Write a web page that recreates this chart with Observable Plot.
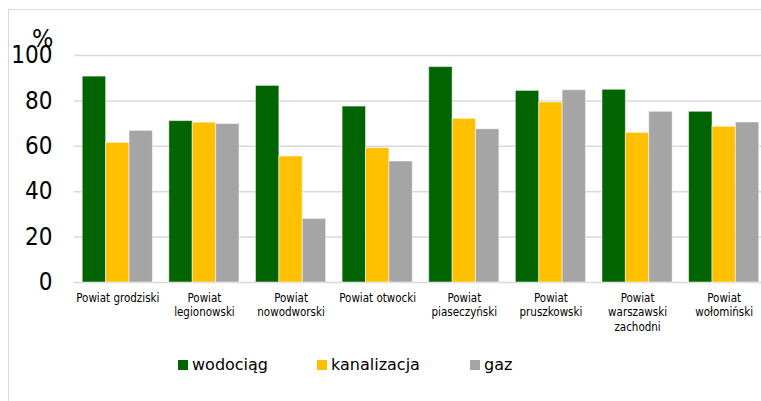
<!DOCTYPE html>
<html>
<head>
<meta charset="utf-8">
<script src="https://cdn.jsdelivr.net/npm/d3@7"></script>
<script src="https://cdn.jsdelivr.net/npm/@observablehq/plot@0.6"></script>
<style>
  body { margin: 0; background: #fff; overflow: hidden; }
  #wrap { position: relative; width: 761px; height: 401px; overflow: hidden; font-family: "DejaVu Sans", sans-serif; }
  #frame { position: absolute; left: 8px; top: 9px; width: 800px; height: 450px; border: 1.5px solid #d9d9d9; box-sizing: border-box; }
  #grid, #chart { position: absolute; left: 0; top: 0; }
  #pct { position: absolute; left: 32px; top: 26px; font-size: 25px; line-height: 1; color: #000; font-family: "DejaVu Sans Condensed", "DejaVu Sans", sans-serif; }
  .leg { position: absolute; top: 355px; font-size: 16px; color: #000; display: flex; align-items: center; }
  .leg i { display: inline-block; width: 10px; height: 10px; margin-right: 4px; }
</style>
</head>
<body>
<div id="wrap">
  <div id="frame"></div>
  <div id="grid"></div>
  <div id="chart"></div>
  <div id="pct">%</div>
  <div id="legend"></div>
</div>
<script>
const categories = ["Powiat grodziski", "Powiat legionowski", "Powiat nowodworski", "Powiat otwocki", "Powiat piaseczyński", "Powiat pruszkowski", "Powiat warszawski zachodni", "Powiat wołomiński"];
const categoryLabels = ["Powiat grodziski", "Powiat\nlegionowski", "Powiat\nnowodworski", "Powiat otwocki", "Powiat\npiaseczyński", "Powiat\npruszkowski", "Powiat\nwarszawski\nzachodni", "Powiat\nwołomiński"];
const series = ["wodociąg", "kanalizacja", "gaz"];
const seriesColors = ["#006400", "#ffc000", "#a5a5a5"];
const wodociag = [90.7, 71.1, 86.6, 77.5, 94.9, 84.4, 84.9, 75.2];
const kanalizacja = [61.5, 70.4, 55.5, 59.2, 72.1, 79.3, 65.9, 68.6];
const gaz = [66.8, 69.8, 28.0, 53.3, 67.5, 84.7, 75.2, 70.5];
const yTicks = [0, 20, 40, 60, 80, 100];

const values = [wodociag, kanalizacja, gaz];
const data = categories.flatMap((c, i) => series.map((s, j) => ({c, s, v: values[j][i]})));
const labelOf = new Map(categories.map((c, i) => [c, categoryLabels[i]]));

const common = {
  width: 761,
  height: 401,
  marginLeft: 74,
  marginRight: -6,
  marginTop: 55,
  marginBottom: 119,
  style: {background: "transparent", fontFamily: "DejaVu Sans, sans-serif", color: "#000"}
};

const grid = Plot.plot({
  ...common,
  x: {axis: null, domain: [0, 1]},
  y: {domain: [0, 100], axis: null},
  marks: [
    Plot.ruleY(yTicks, {y: d => d, stroke: "#d9d9d9", strokeWidth: 1.5}),
    Plot.axisY({ticks: yTicks, tickSize: 0, tickPadding: 22, fontSize: 24, fontFamily: "DejaVu Sans Condensed, DejaVu Sans, sans-serif", anchor: "left"})
  ]
});
document.getElementById("grid").appendChild(grid);

const chart = Plot.plot({
  ...common,
  fx: {domain: categories, paddingInner: 0.19, paddingOuter: 0.095, round: false, axis: null},
  x: {domain: series, padding: 0, round: false, axis: null},
  y: {domain: [0, 100], axis: null},
  color: {domain: series, range: seriesColors},
  marks: [
    Plot.barY(data, {fx: "c", x: "s", y: "v", fill: "s", stroke: "#fff", strokeOpacity: 0.5, strokeWidth: 1}),
    Plot.text(categories, {fx: d => d, text: d => labelOf.get(d), frameAnchor: "bottom", lineAnchor: "top", dy: 10, fontSize: 11.5, lineHeight: 1.22, fontFamily: "DejaVu Sans Condensed, DejaVu Sans, sans-serif", fill: "#000"})
  ]
});
document.getElementById("chart").appendChild(chart);

const legend = document.getElementById("legend");
const legX = [178, 317, 470];
series.forEach((s, i) => {
  const d = document.createElement("div");
  d.className = "leg";
  d.style.left = legX[i] + "px";
  d.innerHTML = `<i style="background:${seriesColors[i]}"></i><span>${s}</span>`;
  legend.appendChild(d);
});
</script>
</body>
</html>
